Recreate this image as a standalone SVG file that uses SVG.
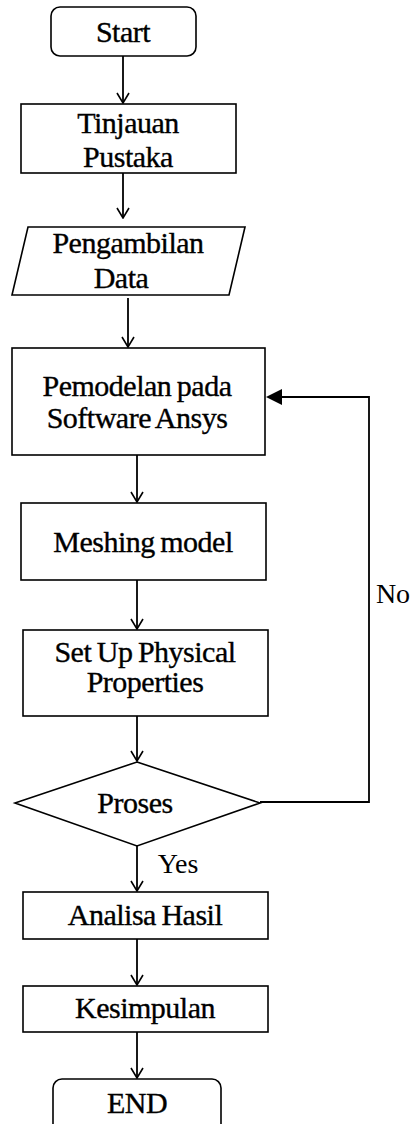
<svg xmlns="http://www.w3.org/2000/svg" width="418" height="1124" viewBox="0 0 418 1124">
  <style>
    .shape { fill: #fff; stroke: #000; stroke-width: 1.6; }
    .label { font-size: 30px; fill: #000; text-anchor: middle; letter-spacing: -0.5px; word-spacing: -1.5px; stroke: #000; stroke-width: 0.35; }
    .note { font-size: 28px; fill: #000; text-anchor: middle; }
    .edge { fill: none; stroke: #000; stroke-width: 1.8; }
  </style>
  <defs>
    <marker id="open" viewBox="0 0 12 14" refX="11" refY="7" markerWidth="12" markerHeight="14" markerUnits="userSpaceOnUse" orient="auto">
      <path d="M1,1 L11,7 L1,13" fill="none" stroke="#000" stroke-width="1.6"/>
    </marker>
  </defs>
  <rect width="418" height="1124" fill="#fff"/>

  <g id="connectors" font-family="Liberation Serif, Times New Roman, serif">
    <line class="edge" x1="123" y1="56" x2="123" y2="103" marker-end="url(#open)"/>
    <line class="edge" x1="123" y1="173" x2="123" y2="218" marker-end="url(#open)"/>
    <line class="edge" x1="128" y1="298" x2="128" y2="347" marker-end="url(#open)"/>
    <line class="edge" x1="137" y1="455" x2="137" y2="502" marker-end="url(#open)"/>
    <line class="edge" x1="137" y1="580" x2="137" y2="629" marker-end="url(#open)"/>
    <line class="edge" x1="137" y1="716" x2="137" y2="761" marker-end="url(#open)"/>
    <line class="edge" x1="137" y1="846" x2="137" y2="891" marker-end="url(#open)"/>
    <line class="edge" x1="137" y1="939" x2="137" y2="985" marker-end="url(#open)"/>
    <line class="edge" x1="137" y1="1032" x2="137" y2="1078" marker-end="url(#open)"/>
    <polyline class="edge" points="260,802 369,802 369,397 281,397"/>
    <polygon points="266,397 282,389 282,405" fill="#000"/>
    <text class="note" x="393" y="603">No</text>
    <text class="note" x="178" y="873">Yes</text>
  </g>

  <g id="nodes" font-family="Liberation Serif, Times New Roman, serif">
    <g id="start">
      <rect class="shape" x="51" y="7" width="145" height="49" rx="9"/>
      <text class="label" x="123" y="42">Start</text>
    </g>

    <g id="tinjauan">
      <rect class="shape" x="21" y="104" width="215" height="69"/>
      <text class="label" x="128" y="133">Tinjauan</text>
      <text class="label" x="128" y="167">Pustaka</text>
    </g>

    <g id="pengambilan">
      <polygon class="shape" points="28,227 245,227 229,295 12,295"/>
      <text class="label" x="128" y="253">Pengambilan</text>
      <text class="label" x="121" y="288">Data</text>
    </g>

    <g id="pemodelan">
      <rect class="shape" x="12" y="348" width="253" height="107"/>
      <text class="label" x="137" y="396">Pemodelan pada</text>
      <text class="label" x="137" y="428">Software Ansys</text>
    </g>

    <g id="meshing">
      <rect class="shape" x="21" y="503" width="245" height="77"/>
      <text class="label" x="143" y="552">Meshing model</text>
    </g>

    <g id="setup">
      <rect class="shape" x="23" y="630" width="245" height="86"/>
      <text class="label" x="145" y="662" font-size="26">Set Up Physical</text>
      <text class="label" x="145" y="692" font-size="26">Properties</text>
    </g>

    <g id="proses">
      <polygon class="shape" points="137,762 260,803 137,846 15,803"/>
      <text class="label" x="135" y="813">Proses</text>
    </g>

    <g id="analisa">
      <rect class="shape" x="23" y="892" width="245" height="47"/>
      <text class="label" x="145" y="925">Analisa Hasil</text>
    </g>

    <g id="kesimpulan">
      <rect class="shape" x="23" y="986" width="245" height="46"/>
      <text class="label" x="145" y="1018">Kesimpulan</text>
    </g>

    <g id="end">
      <rect class="shape" x="53" y="1079" width="168" height="60" rx="9"/>
      <text class="label" x="137" y="1113">END</text>
    </g>
  </g>
</svg>
